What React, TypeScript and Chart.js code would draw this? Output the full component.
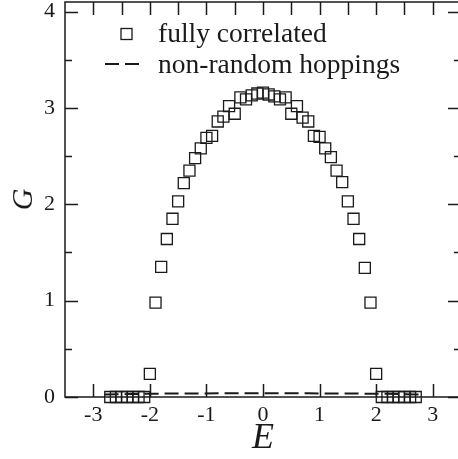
import React, { useEffect, useRef } from "react";
import { Chart, registerables } from "chart.js";

Chart.register(...registerables);

// ---- data ----
const energies = [
  -2.7, -2.6, -2.5, -2.4, -2.3, -2.2, -2.1, -2.0, -1.9, -1.8, -1.7, -1.6, -1.5, -1.4,
  -1.3, -1.2, -1.1, -1.0, -0.9, -0.8, -0.7, -0.6, -0.5, -0.4, -0.3, -0.2, -0.1, 0.0,
  0.1, 0.2, 0.3, 0.4, 0.5, 0.6, 0.7, 0.8, 0.9, 1.0, 1.1, 1.2, 1.3, 1.4, 1.5, 1.6, 1.7,
  1.8, 1.9, 2.0, 2.1, 2.2, 2.3, 2.4, 2.5, 2.6, 2.7,
];
const correlatedG = [
  0.0, 0.0, 0.0, 0.0, 0.0, 0.0, 0.0, 0.24, 0.98, 1.35, 1.64, 1.85, 2.03, 2.22,
  2.35, 2.48, 2.58, 2.69, 2.71, 2.86, 2.91, 3.02, 2.94, 3.11, 3.09, 3.13, 3.15, 3.16,
  3.14, 3.12, 3.09, 3.11, 2.94, 3.02, 2.9, 2.86, 2.71, 2.7, 2.58, 2.49, 2.35, 2.23, 2.03, 1.85, 1.64,
  1.34, 0.98, 0.24, 0.0, 0.0, 0.0, 0.0, 0.0, 0.0, 0.0,
];
const hoppingE = [-2.8, -2.4, -2.0, -1.6, -1.2, -0.8, -0.4, 0.0, 0.4, 0.8, 1.2, 1.6, 2.0, 2.4, 2.8];
const hoppingG = [0.025, 0.03, 0.034, 0.036, 0.037, 0.038, 0.039, 0.04, 0.039, 0.038, 0.037, 0.036, 0.034, 0.03, 0.025];

const xTickValues = [-3, -2, -1, 0, 1, 2, 3];
const xTopTickValues = [-3, -2.5, -2, -1.5, -1, -0.5, 0, 0.5, 1, 1.5, 2, 2.5, 3];
const yTickValues = [0, 1, 2, 3, 4];
const yMinorTickValues = [0.5, 1.5, 2.5, 3.5];

const seriesLabels = ["fully correlated", "non-random hoppings"];
const axisTitles = { x: "E", y: "G" };

const SERIF = "'Liberation Serif', 'DejaVu Serif', serif";
const INK = "#1a1a1a";

const framePlugin = {
  id: "frame",
  beforeDatasetsDraw(chart: any) {
    const { ctx, chartArea, scales } = chart;
    const { left, right, top, bottom } = chartArea;
    const x = scales.x;
    const y = scales.y;
    ctx.save();
    ctx.strokeStyle = INK;
    ctx.lineWidth = 1.5;
    ctx.strokeRect(left, top, right - left, bottom - top);
    const seg = (x1: number, y1: number, x2: number, y2: number) => {
      ctx.beginPath();
      ctx.moveTo(x1, y1);
      ctx.lineTo(x2, y2);
      ctx.stroke();
    };
    xTickValues.forEach((v) => {
      const px = Math.round(x.getPixelForValue(v)) + 0.5;
      seg(px, bottom, px, bottom - 13);
    });
    xTopTickValues.forEach((v) => {
      const px = Math.round(x.getPixelForValue(v)) + 0.5;
      seg(px, top, px, top + 13);
    });
    yTickValues.forEach((v) => {
      const py = Math.round(y.getPixelForValue(v)) + 0.5;
      seg(left, py, left + 13, py);
      seg(right, py, right - 13, py);
    });
    yMinorTickValues.forEach((v) => {
      const py = Math.round(y.getPixelForValue(v)) + 0.5;
      seg(left, py, left + 7, py);
      seg(right, py, right - 7, py);
    });
    ctx.restore();
  },
  afterDraw(chart: any) {
    const { ctx } = chart;
    ctx.save();
    ctx.strokeStyle = INK;
    ctx.fillStyle = INK;
    // legend row 1: square
    ctx.lineWidth = 1.3;
    ctx.strokeRect(121, 28.5, 11, 11);
    // legend row 2: dashes
    ctx.lineWidth = 2;
    ctx.setLineDash([14, 6]);
    ctx.beginPath();
    ctx.moveTo(105, 64);
    ctx.lineTo(140, 64);
    ctx.stroke();
    ctx.setLineDash([]);
    ctx.font = `27.5px ${SERIF}`;
    ctx.textBaseline = "alphabetic";
    ctx.textAlign = "left";
    ctx.fillText(seriesLabels[0], 158, 42);
    ctx.fillText(seriesLabels[1], 158, 73);
    ctx.restore();
  },
};

export default function App() {
  const ref = useRef<HTMLCanvasElement | null>(null);

  useEffect(() => {
    document.body.style.margin = "0";
    const canvas = ref.current;
    if (!canvas) return;
    const chart = new Chart(canvas, {
      type: "scatter",
      data: {
        datasets: [
          {
            label: seriesLabels[1],
            data: hoppingE.map((e, i) => ({ x: e, y: hoppingG[i] })),
            showLine: true,
            borderColor: INK,
            borderWidth: 2,
            borderDash: [14, 6],
            pointRadius: 0,
            fill: false,
            clip: false as any,
          },
          {
            label: seriesLabels[0],
            data: energies.map((e, i) => ({ x: e, y: correlatedG[i] })),
            showLine: false,
            pointStyle: "rect",
            pointRadius: 7.8,
            pointBorderWidth: 1.3,
            pointBorderColor: INK,
            pointBackgroundColor: "rgba(0,0,0,0)",
            clip: false as any,
          },
        ],
      },
      options: {
        animation: false,
        responsive: false,
        devicePixelRatio: 1,
        layout: { autoPadding: false, padding: { top: 2, right: 9, left: 0, bottom: 0 } },
        plugins: { legend: { display: false }, tooltip: { enabled: false } },
        scales: {
          x: {
            type: "linear",
            min: -3.5,
            max: 3.5,
            grid: { display: false, drawTicks: false },
            border: { display: false },
            afterBuildTicks: (scale: any) => {
              scale.ticks = xTickValues.map((v) => ({ value: v }));
            },
            afterFit: (scale: any) => {
              scale.height = 62;
              scale.paddingLeft = 0;
              scale.paddingRight = 0;
            },
            ticks: {
              color: INK,
              font: { family: SERIF, size: 22 },
              padding: 5,
              maxRotation: 0,
              autoSkip: false,
              callback: (v: any) => String(v),
            },
            title: {
              display: true,
              text: axisTitles.x,
              color: INK,
              font: { family: SERIF, size: 36, style: "italic" },
              padding: { top: 0, bottom: -1 },
            },
          },
          y: {
            type: "linear",
            min: 0,
            max: 4.1,
            grid: { display: false, drawTicks: false },
            border: { display: false },
            afterBuildTicks: (scale: any) => {
              scale.ticks = yTickValues.map((v) => ({ value: v }));
            },
            afterFit: (scale: any) => {
              scale.width = 65;
              scale.paddingTop = 0;
              scale.paddingBottom = 0;
            },
            ticks: {
              color: INK,
              font: { family: SERIF, size: 22 },
              padding: 10,
              autoSkip: false,
              callback: (v: any) => String(v),
            },
            title: {
              display: true,
              text: axisTitles.y,
              color: INK,
              font: { family: SERIF, size: 30, style: "italic" },
              padding: { top: 6, bottom: 0 },
            },
          },
        },
      },
      plugins: [framePlugin],
    });
    return () => chart.destroy();
  }, []);

  return (
    <div
      style={{
        position: "fixed",
        left: 0,
        top: 0,
        width: 458,
        height: 459,
        overflow: "hidden",
        background: "#fff",
      }}
    >
      <canvas ref={ref} width={470} height={459} style={{ width: 470, height: 459, display: "block" }} />
    </div>
  );
}
